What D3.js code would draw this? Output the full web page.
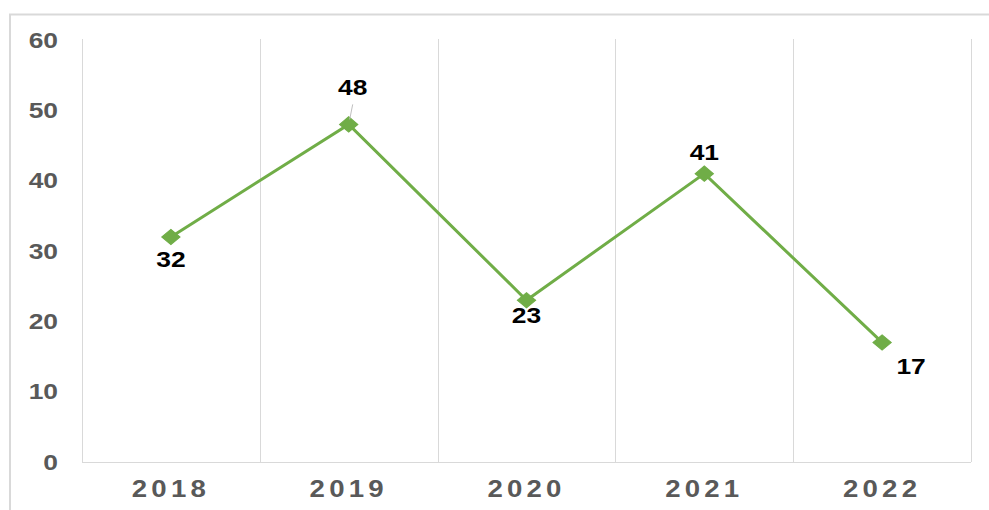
<!DOCTYPE html>
<html><head><meta charset="utf-8">
<script src="https://cdn.jsdelivr.net/npm/d3@7"></script>
<style>body{margin:0;background:#fff}svg{display:block}</style>
</head><body>
<svg id="c" width="989" height="510"></svg>
<script>
const years = ["2018","2019","2020","2021","2022"];
const values = [32,48,23,41,17];
const yTicks = [0,10,20,30,40,50,60];

const svg = d3.select("#c");
const W=989,H=510;
const m={l:82,r:971,t:40,b:462};
const FONT="Liberation Sans, Arial, sans-serif";
svg.append("rect").attr("x",10).attr("y",14.5).attr("width",W).attr("height",H).attr("fill","#fff").attr("stroke","#d9d9d9").attr("stroke-width",2);

const x = d3.scaleBand().domain(years).range([m.l,m.r]).padding(0);
const y = d3.scaleLinear().domain([0,60]).range([m.b,m.t]);

const bounds = years.map(d=>x(d)).concat([m.r]);
svg.append("g").selectAll("line").data(bounds).join("line")
  .attr("x1",d=>Math.round(d)+0.5).attr("x2",d=>Math.round(d)+0.5)
  .attr("y1",m.t-1).attr("y2",m.b).attr("stroke","#d9d9d9").attr("stroke-width",1);
svg.append("line").attr("x1",m.l).attr("x2",m.r).attr("y1",m.b+0.5).attr("y2",m.b+0.5).attr("stroke","#d9d9d9");

const ya = svg.append("g").attr("transform",`translate(${m.l-24},0)`)
  .call(d3.axisLeft(y).tickValues(yTicks).tickSize(0).tickPadding(0));
ya.select(".domain").remove();
ya.selectAll("text").attr("fill","#595959").style("font-family",FONT).style("font-weight","bold").style("font-size","22px")
  .attr("transform","scale(1.2,1)");

const xa = svg.append("g").attr("transform",`translate(0,${m.b})`)
  .call(d3.axisBottom(x).tickSize(0).tickPadding(0));
xa.select(".domain").remove();
xa.selectAll("text").attr("fill","#595959").style("font-family",FONT).style("font-weight","bold").style("font-size","23px")
  .style("letter-spacing","3.5px").attr("dy",null).attr("y",29).attr("dominant-baseline","middle")
  .attr("transform","scale(1.2,1)");

const cx = d=>x(d)+x.bandwidth()/2;
const line = d3.line().x((d,i)=>cx(years[i])).y(d=>y(d));
svg.append("path").datum(values).attr("d",line).attr("fill","none").attr("stroke","#70ad47").attr("stroke-width",3);

svg.append("g").selectAll("path").data(values).join("path")
  .attr("d",d3.symbol().type(d3.symbolSquare).size(115))
  .attr("transform",(d,i)=>`translate(${cx(years[i])},${y(d)}) scale(1.2,1) rotate(45)`)
  .attr("fill","#70ad47").attr("stroke","#70ad47").attr("stroke-width",1);

const off = [[0,24],[4,-35],[0,17],[0,-19],[29,26]];
svg.append("line").attr("x1",cx(years[1])+4).attr("y1",y(values[1])-20).attr("x2",cx(years[1])+1).attr("y2",y(values[1])-5).attr("stroke","#bfbfbf").attr("stroke-width",1);

svg.append("g").selectAll("text").data(values).join("text")
  .attr("transform",(d,i)=>`translate(${cx(years[i])+off[i][0]},${y(d)+off[i][1]}) scale(1.2,1)`)
  .attr("text-anchor","middle").attr("dominant-baseline","middle")
  .style("font-family",FONT).style("font-weight","bold").style("font-size","22px").attr("fill","#000")
  .text(d=>d);
</script>
</body></html>
